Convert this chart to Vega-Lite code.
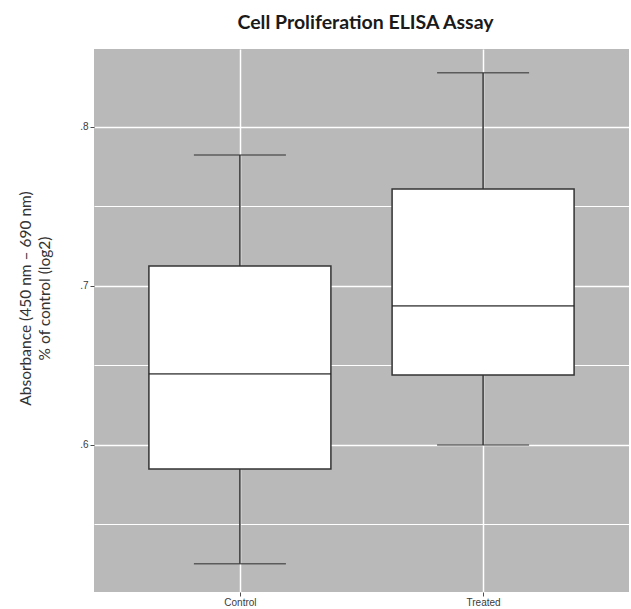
{
  "$schema": "https://vega.github.io/schema/vega-lite/v6.json",
  "autosize": "none",
  "width": 535,
  "height": 543,
  "padding": {"left": 94, "top": 49, "right": 2, "bottom": 17},
  "background": "white",
  "title": {
    "text": "Cell Proliferation ELISA Assay",
    "font": "Lato",
    "fontSize": 19.5,
    "fontWeight": "bold",
    "color": "#1a1a1a",
    "anchor": "middle",
    "dx": 4,
    "offset": 16
  },
  "config": {
    "view": {"fill": "#b9b9b9", "stroke": null},
    "axis": {
      "labelFont": "Liberation Sans",
      "labelFontSize": 10,
      "labelColor": "#3a3a3a",
      "tickColor": "#4d4d4d",
      "tickSize": 4,
      "domain": false,
      "gridColor": "#ffffff"
    }
  },
  "data": {
    "values": [
      {"group": "Control", "min": 0.5252, "q1": 0.5849, "median": 0.6447, "q3": 0.7126, "max": 0.7824},
      {"group": "Treated", "min": 0.6, "q1": 0.6440, "median": 0.6874, "q3": 0.7610, "max": 0.8340}
    ]
  },
  "encoding": {
    "x": {
      "field": "group",
      "type": "nominal",
      "scale": {"type": "point", "padding": 0.6},
      "axis": {
        "title": null,
        "labelAngle": 0,
        "grid": true,
        "gridWidth": 1.5,
        "labelPadding": 1
      }
    }
  },
  "layer": [
    {
      "mark": {"type": "rule", "color": "#333333", "strokeWidth": 1.5},
      "encoding": {
        "y": {
          "field": "min",
          "type": "quantitative",
          "scale": {"domain": [0.5075, 0.849], "nice": false, "zero": false},
          "axis": {
            "title": ["Absorbance (450 nm – 690 nm)", "% of control (log2)"],
            "titleFont": "Lato",
            "titleFontSize": 15.5,
            "titleFontWeight": "normal",
            "titleColor": "#333333",
            "titlePadding": 27,
            "titleLineHeight": 19.5,
            "titleY": 249,
            "values": [0.55, 0.6, 0.65, 0.7, 0.75, 0.8],
            "grid": true,
            "gridWidth": {"condition": {"test": "abs(datum.value*10 - round(datum.value*10)) < 0.01", "value": 1.6}, "value": 1},
            "tickOpacity": {"condition": {"test": "abs(datum.value*10 - round(datum.value*10)) < 0.01", "value": 1}, "value": 0},
            "labelExpr": "abs(datum.value*10 - round(datum.value*10)) < 0.01 ? '.' + round(datum.value*10) : ''",
            "labelPadding": 2
          }
        },
        "y2": {"field": "max"}
      }
    },
    {
      "mark": {"type": "tick", "color": "#333333", "thickness": 1.5, "size": 92},
      "encoding": {"y": {"field": "min", "type": "quantitative"}}
    },
    {
      "mark": {"type": "tick", "color": "#333333", "thickness": 1.5, "size": 92},
      "encoding": {"y": {"field": "max", "type": "quantitative"}}
    },
    {
      "mark": {"type": "bar", "fill": "white", "stroke": "#333333", "strokeWidth": 1.5, "size": 182},
      "encoding": {
        "y": {"field": "q1", "type": "quantitative"},
        "y2": {"field": "q3"}
      }
    },
    {
      "mark": {"type": "tick", "color": "#222222", "thickness": 1.8, "size": 182},
      "encoding": {"y": {"field": "median", "type": "quantitative"}}
    }
  ]
}
